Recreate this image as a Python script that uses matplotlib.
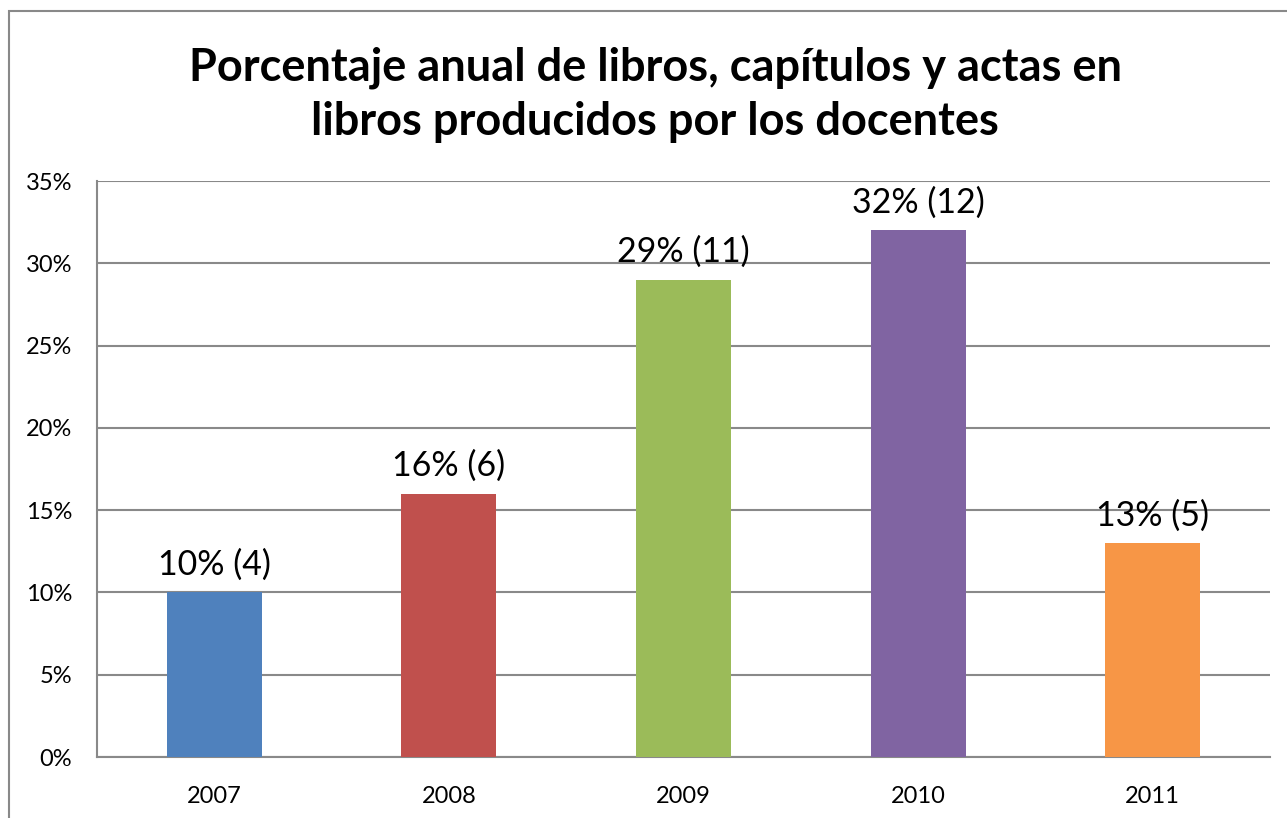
import matplotlib.pyplot as plt
from matplotlib.patches import Rectangle
from matplotlib.ticker import FuncFormatter

years = ['2007', '2008', '2009', '2010', '2011']
porcentajes = [10, 16, 29, 32, 13]
cantidades = [4, 6, 11, 12, 5]
colores = ['#4F81BD', '#C0504D', '#9BBB59', '#8064A2', '#F79646']

plt.rcParams['font.family'] = ['Lato', 'DejaVu Sans']

fig = plt.figure(figsize=(12.87, 8.18), dpi=100)
ax = fig.add_axes([97 / 1287, 61 / 818, 1173 / 1287, 576 / 818])

# marco exterior del grafico
fig.patches.append(Rectangle((9 / 1287, -0.1), 1.2, (818 - 11) / 818 + 0.1,
                             transform=fig.transFigure, fill=False,
                             edgecolor='#898989', linewidth=1.5))

x = range(len(years))
bars = ax.bar(x, porcentajes, width=0.405, color=colores, zorder=3)

for b, p, n in zip(bars, porcentajes, cantidades):
    ax.text(b.get_x() + b.get_width() / 2, p + 0.7, '%d%% (%d)' % (p, n),
            ha='center', va='bottom', fontsize=24.5)

ax.set_xlim(-0.5, 4.5)
ax.set_ylim(0, 35)
ax.set_yticks(range(0, 36, 5))
ax.yaxis.set_major_formatter(FuncFormatter(lambda v, pos: '%d%%' % v))
ax.set_xticks(list(x))
ax.set_xticklabels(years)
ax.tick_params(axis='both', length=0, labelsize=17)
ax.tick_params(axis='y', pad=18)
ax.tick_params(axis='x', pad=21)
ax.grid(axis='y', color='#898989', linewidth=1.5, zorder=0)
for s in ['top', 'right']:
    ax.spines[s].set_visible(False)
for s in ['left', 'bottom']:
    ax.spines[s].set_color('#898989')
    ax.spines[s].set_linewidth(1.5)

fig.text(655 / 1287, 1 - 95 / 818,
         'Porcentaje anual de libros, capítulos y actas en\nlibros producidos por los docentes',
         ha='center', va='center', fontsize=32.5, fontweight='bold', linespacing=1.35)

plt.savefig('out.png', dpi=100)
